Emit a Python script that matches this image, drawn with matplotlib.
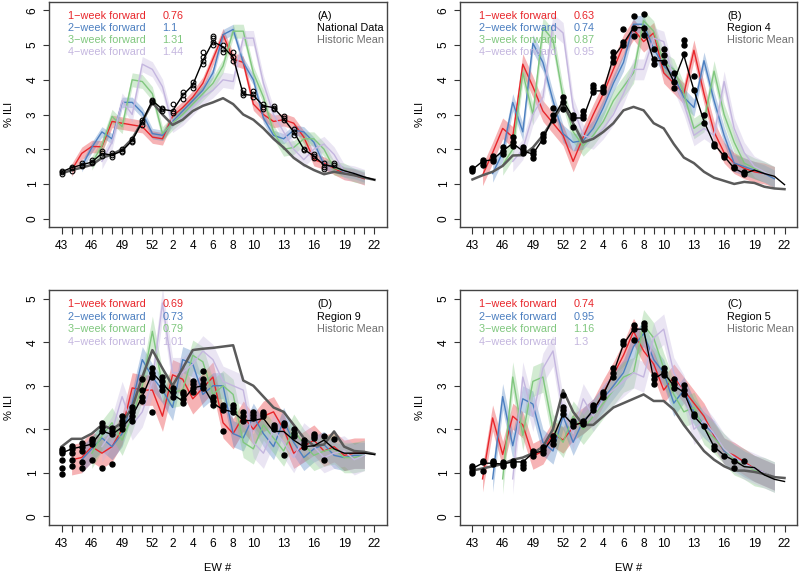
import numpy as np
import matplotlib.pyplot as plt

plt.rcParams['font.family'] = ['Liberation Sans', 'DejaVu Sans']

# epidemic weeks 43..52 then 1..22
weeks = list(range(43, 53)) + list(range(1, 23))
shown_weeks = [43, 46, 49, 52, 2, 4, 6, 8, 10, 13, 16, 19, 22]
horizons = ['1\u2212week forward', '2\u2212week forward', '3\u2212week forward', '4\u2212week forward']
colors = ['#E8262B', '#4C7FC0', '#80C77E', '#C4B6DF']
N = None

# ---- (A) National Data ----
a_obs = [1.35, 1.47, 1.55, 1.63, 1.88, 1.83, 1.95, 2.25, 2.8, 3.4, 3.15, 3.1, 3.55, 3.85, 4.55, 5.1,
         4.95, 4.65, 3.58, 3.55, 3.25, 3.2, 2.88, 2.5, 2.0, 1.8, 1.55, 1.5, 1.38, 1.3, 1.2, 1.12]
a_hist = [1.3, 1.4, 1.47, 1.55, 1.75, 1.85, 2.0, 2.3, 2.8, 3.35, 3.0, 2.7, 2.85, 3.1, 3.25, 3.35,
          3.47, 3.3, 3.0, 2.85, 2.6, 2.3, 2.05, 1.75, 1.55, 1.4, 1.28, 1.35, 1.3, 1.25, 1.18, 1.12]
a_f1 = [N, 1.4, 1.88, 2.08, 2.07, 2.8, 2.75, 2.7, 2.65, 2.35, 2.3, 2.95, 3.2, 3.5, 3.9, 4.6,
        5.3, 4.6, 4.5, 3.3, 3.0, 2.8, 2.85, 2.75, 2.35, 1.7, 1.6, 1.45, 1.3, 1.25, 1.15, N]
a_f2 = [N, N, 1.5, 2.05, 2.5, 2.3, 3.35, 3.35, 3.05, 2.45, 2.4, 2.8, 3.1, 3.4, 3.7, 4.2,
        5.3, 5.45, 4.5, 4.0, 2.9, 2.4, 2.3, 2.55, 2.5, 2.2, 1.55, 1.5, 1.35, 1.3, 1.2, N]
a_f3 = [N, N, N, 1.6, 2.1, 2.95, 2.65, 4.0, 3.95, 3.6, 2.45, 2.75, 3.0, 3.3, 3.6, 3.9,
        4.4, 5.4, 5.4, 4.2, 3.5, 2.5, 2.0, 2.05, 2.3, 2.3, 2.0, 1.45, 1.4, 1.25, 1.2, N]
a_f4 = [N, N, N, N, 1.65, 2.2, 3.4, 3.0, 4.45, 4.3, 3.8, 2.7, 2.9, 3.2, 3.5, 3.7,
        4.0, 3.95, 5.2, 5.2, 3.9, 3.0, 2.5, 2.0, 1.7, 2.0, 2.15, 1.85, 1.35, 1.3, 1.2, N]
a_band = [0.18, 0.15, 0.2, 0.22]
a_pts = [[1.3, 1.35, 1.38], [1.38, 1.45, 1.5], [1.52, 1.56, 1.6], [1.6, 1.64, 1.68], [1.8, 1.88, 1.95],
         [1.78, 1.83, 1.88], [1.92, 1.96, 2.0], [2.2, 2.25, 2.3], [2.7, 2.78, 2.85], [3.35, 3.38, 3.42],
         [3.1, 3.15, 3.2], [3.05, 3.1, 3.3], [3.45, 3.55, 3.65], [3.75, 3.85, 3.95], [4.45, 4.55, 4.65, 4.8],
         [5.0, 5.1, 5.2, 5.25], [4.8, 4.9, 5.0], [4.55, 4.65, 4.8], [3.55, 3.62, 3.7], [3.5, 3.6, 3.68],
         [3.15, 3.22, 3.3], [3.15, 3.2, 3.25], [2.85, 2.9, 2.95], [2.4, 2.5, 2.58], [1.98, 2.02],
         [1.75, 1.8, 1.85], [1.42, 1.5, 1.6], [1.55, 1.6]]
a_mae = ['0.76', '1.1', '1.31', '1.44']

# ---- (B) Region 4 ----
b_obs = [1.42, 1.65, 1.7, 1.95, 2.17, 1.95, 1.86, 2.3, 2.9, 3.4, 2.9, 2.9, 3.68, 3.68, 4.65, 5.05,
         5.5, 5.5, 4.55, 4.55, 3.95, 4.7, 3.7, 2.8, 2.15, 1.8, 1.45, 1.3, 1.4, 1.3, 1.22, 0.98]
b_hist = [1.13, 1.25, 1.35, 1.52, 1.82, 1.83, 2.05, 2.4, 2.85, 3.3, 2.75, 2.2, 2.3, 2.5, 2.75, 3.12,
          3.22, 3.12, 2.75, 2.6, 2.15, 1.76, 1.6, 1.35, 1.18, 1.09, 1.0, 1.06, 1.03, 0.92, 0.87, 0.85]
b_f1 = [N, 1.25, 1.9, 2.6, 2.35, 4.45, 3.8, 3.1, 2.75, 2.4, 1.65, 2.35, 3.0, 3.6, 4.3, 5.0,
        5.45, 5.1, 5.35, 4.2, 3.9, 3.6, 4.85, 3.6, 2.5, 1.9, 1.6, 1.45, 1.35, 1.3, 1.2, N]
b_f2 = [N, N, 1.3, 1.9, 3.35, 2.5, 5.05, 4.5, 3.4, 2.45, 2.2, 2.25, 2.6, 3.2, 3.9, 4.5,
        5.6, 5.6, 4.9, 4.4, 4.1, 3.5, 3.2, 4.55, 3.4, 2.4, 1.6, 1.5, 1.4, 1.3, 1.15, N]
b_f3 = [N, N, N, 1.55, 2.0, 4.2, 3.0, 5.5, 5.15, 3.5, 2.5, 2.1, 2.4, 2.8, 3.4, 3.8,
        4.2, 5.7, 5.4, 4.5, 4.3, 3.6, 2.6, 2.8, 4.25, 3.0, 2.2, 1.6, 1.45, 1.35, 1.2, N]
b_f4 = [N, N, N, N, 1.65, 2.0, 3.0, 3.5, 5.6, 5.35, 3.2, 2.4, 2.3, 2.6, 3.0, 3.6,
        4.3, 4.3, 5.2, 5.1, 4.0, 3.3, 2.4, 2.6, 2.4, 3.95, 2.6, 1.9, 1.5, 1.35, 1.2, N]
b_band = [0.3, 0.25, 0.3, 0.3]
b_pts = [[1.37, 1.42, 1.47], [1.55, 1.62, 1.7], [1.65, 1.72, 1.8], [1.85, 1.95, 2.05], [2.1, 2.2, 2.35],
         [1.9, 1.97, 2.05], [1.75, 1.85, 1.95], [2.25, 2.35, 2.45], [2.85, 3.0, 3.2], [3.15, 3.35, 3.5],
         [2.65, 2.9, 3.0], [2.9, 3.0, 3.1], [3.65, 3.75, 3.85], [3.65, 3.72, 3.8], [4.5, 4.65, 4.8],
         [5.0, 5.1, 5.45], [5.25, 5.5, 5.85], [5.3, 5.5, 5.9], [4.45, 4.6, 4.9], [4.5, 4.7, 4.9],
         [3.75, 3.95, 4.2], [4.75, 5.0, 5.15], [3.7, 4.1], [2.75, 3.0], [2.1, 2.15], [1.78, 1.82],
         [1.45, 1.48], [1.3, 1.33]]
b_mae = ['0.63', '0.74', '0.87', '0.95']

# ---- (D) Region 9 ----
d_obs = [1.45, 1.55, 1.6, 1.66, 1.96, 1.88, 2.05, 2.3, 2.75, 3.3, 3.05, 2.8, 2.65, 2.95, 3.0, 2.6,
         2.45, 2.4, 2.2, 2.2, 2.25, 1.95, 1.95, 1.75, 1.6, 1.62, 1.75, 1.55, 1.45, 1.45, 1.45, 1.42]
d_hist = [1.6, 1.78, 1.78, 1.9, 2.1, 2.0, 2.15, 2.5, 3.2, 3.82, 3.4, 3.0, 3.4, 3.82, 3.85, 3.87,
          3.9, 3.93, 3.12, 3.0, 2.75, 2.5, 2.4, 2.1, 1.8, 1.62, 1.65, 1.95, 1.6, 1.5, 1.48, 1.43]
d_f1 = [N, 1.3, 1.35, 1.6, 1.45, 1.6, 2.0, 2.95, 2.9, 2.9, 2.3, 3.25, 3.15, 2.7, 2.95, 3.2,
        2.15, 1.9, 2.3, 2.0, 2.3, 2.4, 2.0, 1.45, 1.6, 1.75, 1.5, 1.6, 1.4, 1.45, 1.45, N]
d_f2 = [N, N, 1.3, 1.55, 1.8, 1.6, 1.9, 2.6, 3.6, 3.2, 2.9, 2.5, 3.6, 3.5, 2.8, 3.0,
        3.0, 1.9, 1.8, 2.3, 1.9, 1.6, 2.2, 1.7, 1.35, 1.55, 1.65, 1.4, 1.35, 1.4, 1.4, N]
d_f3 = [N, N, N, 1.45, 1.85, 2.15, 1.75, 2.3, 3.0, 4.25, 3.0, 2.85, 2.9, 3.7, 3.55, 2.8,
        3.0, 2.8, 1.7, 1.55, 2.1, 1.8, 1.5, 2.0, 1.65, 1.4, 1.5, 1.55, 1.35, 1.35, 1.4, N]
d_f4 = [N, N, N, N, 1.6, 1.95, 2.75, 2.1, 2.4, 3.1, 4.9, 3.3, 3.3, 3.5, 3.8, 3.6,
        3.1, 3.0, 2.9, 1.7, 1.45, 2.0, 1.7, 1.35, 1.8, 1.6, 1.35, 1.45, 1.5, 1.3, 1.4, N]
d_band = [0.35, 0.3, 0.35, 0.35]
d_pts = [[0.97, 1.12, 1.3, 1.45, 1.5, 1.55], [1.15, 1.3, 1.45, 1.55, 1.62], [1.1, 1.25, 1.5, 1.6, 1.68],
         [1.3, 1.65, 1.72, 1.78], [1.1, 1.95, 2.05, 2.15], [1.2, 1.88, 1.95, 2.02], [2.0, 2.1, 2.2, 2.3],
         [2.2, 2.3, 2.4, 2.5], [2.65, 2.75, 2.9, 3.15], [2.4, 3.2, 3.3, 3.4], [2.9, 3.0, 3.1, 3.2],
         [2.75, 2.85, 2.95], [2.6, 2.7, 2.8, 2.85], [2.85, 2.95, 3.05, 3.1], [2.95, 3.05, 3.15, 3.35],
         [2.55, 2.65, 2.75], [1.95, 2.45, 2.5, 2.55], [2.4, 2.48, 2.55], [2.2, 2.3, 2.4], [2.25, 2.32, 2.4],
         [2.3, 2.35, 2.4], [2.0, 2.05, 2.1], [1.4, 2.1, 2.15], [1.85, 1.92, 2.0], [1.6, 1.68, 1.75],
         [1.8, 1.84, 1.88], [1.3, 1.85], [1.78]]
d_mae = ['0.69', '0.73', '0.79', '1.01']

# ---- (C) Region 5 ----
c_obs = [1.1, 1.22, 1.22, 1.2, 1.25, 1.25, 1.45, 1.5, 1.8, 2.35, 2.1, 2.15, 2.45, 2.8, 3.3, 3.95,
         4.3, 4.3, 3.15, 3.3, 3.0, 2.85, 2.3, 2.05, 1.6, 1.4, 1.28, 1.14, 1.12, 0.95, 0.85, 0.8]
c_hist = [1.05, 1.1, 1.15, 1.2, 1.3, 1.35, 1.45, 1.6, 2.0, 2.9, 2.4, 2.1, 2.1, 2.3, 2.5, 2.6,
          2.7, 2.8, 2.65, 2.65, 2.45, 2.1, 1.8, 1.5, 1.3, 1.15, 1.05, 1.05, 1.02, 0.97, 0.9, 0.88]
c_f1 = [N, 0.86, 2.26, 1.42, 2.3, 2.1, 1.38, 1.5, 1.9, 1.75, 2.05, 2.2, 2.4, 2.85, 3.25, 3.7,
        4.25, 3.8, 3.5, 2.9, 3.2, 2.9, 2.6, 2.3, 1.85, 1.5, 1.4, 1.25, 1.1, 1.0, 0.9, N]
c_f2 = [N, N, 0.86, 2.75, 1.62, 2.7, 2.58, 1.7, 1.5, 2.3, 1.7, 2.2, 2.4, 2.7, 3.0, 3.3,
        3.9, 4.2, 3.6, 3.3, 2.6, 2.9, 2.4, 2.1, 1.9, 1.5, 1.35, 1.2, 1.1, 1.0, 0.9, N]
c_f3 = [N, N, N, 0.86, 3.2, 1.86, 3.1, 3.2, 2.0, 1.7, 2.3, 2.0, 2.3, 2.6, 2.9, 3.2,
        3.3, 4.4, 4.1, 3.4, 2.8, 2.4, 2.5, 2.0, 1.8, 1.55, 1.3, 1.2, 1.05, 1.0, 0.9, N]
c_f4 = [N, N, N, N, 0.86, 3.2, 2.3, 3.4, 3.8, 2.4, 1.9, 2.7, 2.3, 2.7, 2.9, 3.1,
        3.3, 3.2, 4.1, 4.3, 3.3, 2.9, 2.0, 2.2, 1.9, 1.55, 1.35, 1.2, 1.1, 1.0, 0.9, N]
c_band = [0.3, 0.3, 0.35, 0.35]
c_pts = [[1.0, 1.05, 1.1, 1.15], [1.05, 1.25, 1.28], [1.2, 1.24, 1.28], [1.15, 1.2, 1.25], [1.18, 1.23, 1.28],
         [1.1, 1.18, 1.25], [1.38, 1.45, 1.5], [1.45, 1.52, 1.6], [1.65, 1.75, 1.85], [2.35, 2.45, 2.5, 2.78],
         [2.08, 2.14, 2.2], [2.12, 2.16, 2.2], [2.45, 2.5, 2.55], [2.75, 2.8, 2.85], [3.2, 3.3, 3.4],
         [3.95, 4.02], [4.06, 4.3, 4.4], [4.3, 4.38, 4.45], [3.05, 3.15, 3.25], [3.25, 3.32, 3.4],
         [2.95, 3.05, 3.15], [2.8, 2.9, 3.02], [2.3, 2.35], [2.07], [1.55, 1.62], [1.38], [1.1, 1.28], [1.27]]
c_mae = ['0.74', '0.95', '1.16', '1.3']


def to_arr(v):
    return np.array([np.nan if x is None else x for x in v], dtype=float)


def draw_panel(ax, obs, hist, fcs, band, pts, mae, tag, name, ymax, open_pts, xlabel):
    x = np.arange(len(weeks))
    ax.set_xlim(-0.04 * 31, 31 * 1.04)
    ax.set_ylim(-0.04 * ymax, ymax * 1.04)

    # legend block drawn as text, like the original
    rows = [ymax * 0.975, ymax * 0.917, ymax * 0.859, ymax * 0.801]
    for i in range(4):
        ax.text(0.66, rows[i], horizons[i], color=colors[i], fontsize=7.8, va='center', ha='left')
        ax.text(10.0, rows[i], mae[i], color=colors[i], fontsize=7.8, va='center', ha='left')
    ax.text(25.3, rows[0], tag, color='black', fontsize=7.8, va='center')
    ax.text(25.3, rows[1], name, color='black', fontsize=7.8, va='center')
    ax.text(25.3, rows[2], 'Historic Mean', color='#6e6e6e', fontsize=7.8, va='center')

    for i, f in enumerate(fcs):
        f = to_arr(f)
        ax.fill_between(x, f - band[i], f + band[i], color=colors[i], alpha=0.35, lw=0)
    for i, f in enumerate(fcs):
        ax.plot(x, to_arr(f), color=colors[i], lw=1.0)

    ax.plot(x, hist, color='#5a5a5a', lw=1.8)
    ax.plot(x, obs, color='black', lw=1.0)
    for i, vals in enumerate(pts):
        if open_pts:
            ax.plot([i] * len(vals), vals, 'o', ms=3.4, mfc='none', mec='black', mew=0.8)
        else:
            ax.plot([i] * len(vals), vals, 'o', ms=3.6, color='black')

    ax.set_xticks(x)
    ax.set_xticklabels([str(w) if w in shown_weeks else '' for w in weeks])
    ax.set_yticks(range(int(ymax) + 1))
    ax.tick_params(axis='x', length=5, width=0.8, color='#333333', labelsize=8.6, pad=4.5)
    ax.tick_params(axis='y', length=4.5, width=0.8, color='#333333', labelsize=8.6, pad=3,
                   labelrotation=90)
    for lbl in ax.get_yticklabels():
        lbl.set_va('center')
    for s in ax.spines.values():
        s.set_color('#444444')
        s.set_linewidth(1.0)
    ax.set_ylabel('% ILI', fontsize=8)
    ax.yaxis.set_label_coords(-0.105, 0.5)
    if xlabel:
        ax.set_xlabel('EW #', fontsize=8)
        ax.xaxis.set_label_coords(0.5, -0.16)


fig = plt.figure(figsize=(8, 5.75), dpi=100)
ax_a = fig.add_axes([0.06125, 0.6052, 0.4225, 0.3913])
ax_b = fig.add_axes([0.575, 0.6052, 0.42125, 0.3913])
ax_d = fig.add_axes([0.06125, 0.08696, 0.4225, 0.4087])
ax_c = fig.add_axes([0.575, 0.08696, 0.42125, 0.4087])

draw_panel(ax_a, a_obs, a_hist, [a_f1, a_f2, a_f3, a_f4], a_band, a_pts, a_mae,
           '(A)', 'National Data', 6, True, False)
draw_panel(ax_b, b_obs, b_hist, [b_f1, b_f2, b_f3, b_f4], b_band, b_pts, b_mae,
           '(B)', 'Region 4', 6, False, False)
draw_panel(ax_d, d_obs, d_hist, [d_f1, d_f2, d_f3, d_f4], d_band, d_pts, d_mae,
           '(D)', 'Region 9', 5, False, True)
draw_panel(ax_c, c_obs, c_hist, [c_f1, c_f2, c_f3, c_f4], c_band, c_pts, c_mae,
           '(C)', 'Region 5', 5, False, True)

fig.savefig('out.png', dpi=100)
